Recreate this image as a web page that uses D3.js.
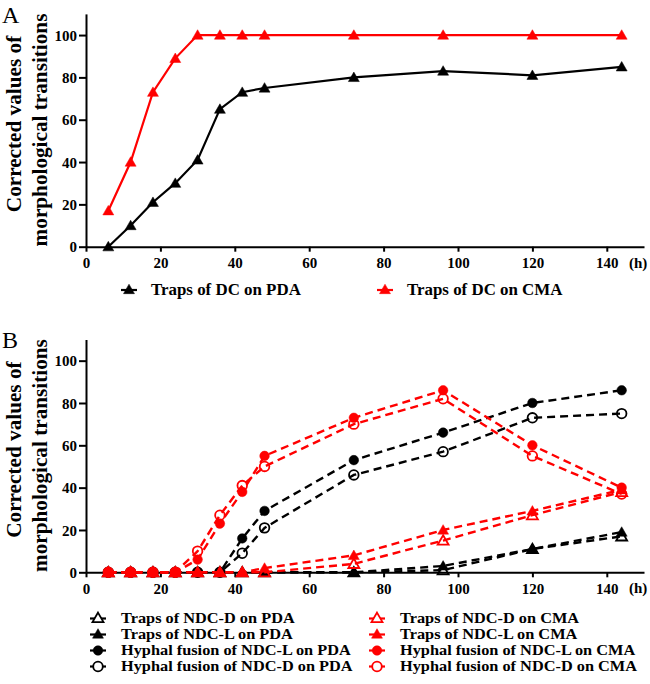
<!DOCTYPE html>
<html><head><meta charset="utf-8">
<script src="https://cdn.jsdelivr.net/npm/d3@7"></script>
<style>body{margin:0;background:#fff}svg{display:block}</style>
</head><body>
<svg id="c" width="650" height="684"></svg>
<script>
// ---- data ----
const hours = [6,12,18,24,30,36,42,48,72,96,120,144];
const xTicks = [0,20,40,60,80,100,120,140];
const yTicks = [0,20,40,60,80,100];

// Panel A
const dcPDA = [0,10,21,30,41,65,73,75,80,83,81,85];
const dcCMA = [17,40,73,89,100,100,100,100,100,100,100,100];

// Panel B
const trapsNDCD_PDA  = [0,0,0,0,0,0,0,0,0,1,11,17];
const trapsNDCL_PDA  = [0,0,0,0,0,0,0,0,0,3,11,19];
const fusionNDCL_PDA = [0,0,0,0,0,0,16,29,53,66,80,86];
const fusionNDCD_PDA = [0,0,0,0,0,0,9,21,46,57,73,75];
const trapsNDCD_CMA  = [0,0,0,0,0,0,0,0,4,15,27,38];
const trapsNDCL_CMA  = [0,0,0,0,0,0,0,2,8,20,29,39];
const fusionNDCL_CMA = [0,0,0,0,6,23,38,55,73,86,60,40];
const fusionNDCD_CMA = [0,0,0,0,10,27,41,50,70,82,55,37];

const RED = "#ff0000", BLK = "#000000";
const FONT = "'Liberation Serif','Times New Roman',serif";

const seriesA = [
  {name:"Traps of DC on PDA", vals:dcPDA, color:BLK, shape:"tri", filled:true},
  {name:"Traps of DC on CMA", vals:dcCMA, color:RED, shape:"tri", filled:true}
];
const seriesB = [
  {name:"Traps of NDC-D on PDA", vals:trapsNDCD_PDA, color:BLK, shape:"tri", filled:false},
  {name:"Traps of NDC-L on PDA", vals:trapsNDCL_PDA, color:BLK, shape:"tri", filled:true},
  {name:"Hyphal fusion of NDC-L on PDA", vals:fusionNDCL_PDA, color:BLK, shape:"circ", filled:true},
  {name:"Hyphal fusion of NDC-D on PDA", vals:fusionNDCD_PDA, color:BLK, shape:"circ", filled:false},
  {name:"Traps of NDC-D on CMA", vals:trapsNDCD_CMA, color:RED, shape:"tri", filled:false},
  {name:"Traps of NDC-L on CMA", vals:trapsNDCL_CMA, color:RED, shape:"tri", filled:true},
  {name:"Hyphal fusion of NDC-L on CMA", vals:fusionNDCL_CMA, color:RED, shape:"circ", filled:true},
  {name:"Hyphal fusion of NDC-D on CMA", vals:fusionNDCD_CMA, color:RED, shape:"circ", filled:false}
];

const svg = d3.select("#c");
const x = d3.scaleLinear().domain([0,150]).range([86,644]);

function measure(str, fs, bold=true){
  const t = svg.append("text").attr("font-family",FONT).attr("font-weight",bold?"bold":"normal")
    .attr("font-size",fs).text(str);
  const w = t.node().getComputedTextLength();
  t.remove();
  return w;
}
// font size that makes `str` span `target` px (bold serif)
function fitSize(str, target){ return 20*target/measure(str,20); }
const tickFS   = fitSize("100", 22.5);
const titleFS  = fitSize("morphological transitions", 233);
const legAFS   = fitSize("Traps of DC on PDA", 150);
const legBFS   = fitSize("Hyphal fusion of NDC-L on PDA", 230);
const legBFSsmall = 14.2;

function sym(shape){
  return shape==="tri" ? d3.symbol().type(d3.symbolTriangle).size(52)
                       : d3.symbol().type(d3.symbolCircle).size(72);
}

function panel(y0, letter, series, dashed){
  const y = d3.scaleLinear().domain([0,110]).range([y0, y0-232.8]);
  const g = svg.append("g");

  // axes
  const xa = g.append("g").attr("transform",`translate(0,${y0})`)
    .call(d3.axisBottom(x).tickValues(xTicks).tickSize(5).tickSizeOuter(0).tickPadding(6));
  const ya = g.append("g").attr("transform",`translate(86,0)`)
    .call(d3.axisLeft(y).tickValues(yTicks).tickSize(7).tickSizeOuter(0).tickPadding(2));
  [xa,ya].forEach(a=>{
    a.attr("font-family",FONT);
    a.selectAll("path,line").attr("stroke","#000").attr("stroke-width",2);
    a.selectAll("text").attr("font-family",FONT).attr("font-weight","bold")
      .attr("font-size",tickFS).attr("fill","#000");
  });
  ya.selectAll("text").attr("dy","0.35em");
  xa.selectAll("text").attr("dy","0.72em");
  g.append("text").attr("x",629).attr("y",y0+21).attr("font-family",FONT)
    .attr("font-weight","bold").attr("font-size",tickFS).text("(h)");

  // panel letter
  g.append("text").attr("x",2).attr("y",y0-224.2).attr("font-family",FONT)
    .attr("font-size",24).text(letter);

  // axis title
  const cy = y0-116.7;
  g.append("text").attr("transform",`translate(21,${cy-6}) rotate(-90)`)
    .attr("text-anchor","middle").attr("font-family",FONT).attr("font-weight","bold")
    .attr("font-size",titleFS).text("Corrected values of");
  g.append("text").attr("transform",`translate(47,${cy}) rotate(-90)`)
    .attr("text-anchor","middle").attr("font-family",FONT).attr("font-weight","bold")
    .attr("font-size",titleFS).text("morphological transitions");

  // lines & markers
  const line = d3.line().x((d,i)=>x(hours[i])).y(d=>y(d));
  const order = series.slice().sort((a,b)=>{
    const ra = (a.color===RED?1:0)*2 + (a.shape==="circ"?1:0);
    const rb = (b.color===RED?1:0)*2 + (b.shape==="circ"?1:0);
    return ra-rb;
  });
  order.forEach(s=>{
    g.append("path").datum(s.vals).attr("d",line).attr("fill","none")
      .attr("stroke",s.color).attr("stroke-width",dashed?2.4:2.2)
      .attr("stroke-dasharray",dashed?"8,5":null);
    g.selectAll(null).data(s.vals).enter().append("path")
      .attr("d",sym(s.shape))
      .attr("transform",(d,i)=>`translate(${x(hours[i])},${y(d)+(s.shape==="tri"?1:0)})`)
      .attr("fill",s.filled?s.color:"none")
      .attr("stroke",s.color).attr("stroke-width",s.filled?0.5:1.8);
  });
  return y;
}

panel(246.7, "A", seriesA, false);
panel(572.3, "B", seriesB, true);

// legends
function legendItem(s, mx, my, fs, off, stretchTo){
  const g = svg.append("g");
  g.append("line").attr("x1",mx-8).attr("x2",mx+8).attr("y1",my).attr("y2",my)
    .attr("stroke",s.color).attr("stroke-width",2.2);
  g.append("path").attr("d",sym(s.shape)).attr("transform",`translate(${mx},${my+(s.shape==="tri"?0.5:0)})`)
    .attr("fill",s.filled?s.color:"#fff").attr("stroke",s.color)
    .attr("stroke-width",s.filled?0.5:1.8);
  const t = g.append("text").attr("x",mx+off).attr("y",my+4.8).attr("font-family",FONT)
    .attr("font-weight","bold").attr("font-size",fs).attr("fill","#000")
    .text(s.name);
  if (stretchTo) t.attr("textLength", measure(s.name, stretchTo)).attr("lengthAdjust","spacingAndGlyphs");
}
legendItem(seriesA[0], 129, 290, legAFS, 22);
legendItem(seriesA[1], 385, 290, legAFS, 22);

const rowsY = [618.5, 634.5, 650.5, 666.5];
[0,1,2,3].forEach(i=>{
  legendItem(seriesB[i], 98, rowsY[i], legBFSsmall, 23, legBFS);
  legendItem(seriesB[i+4], 377, rowsY[i], legBFSsmall, 23, legBFS);
});
</script>
</body></html>
